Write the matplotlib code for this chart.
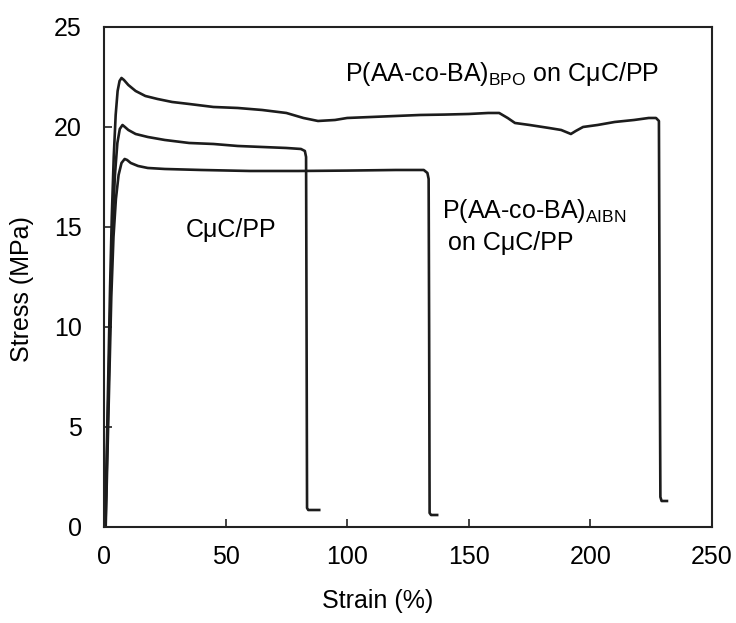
import matplotlib
matplotlib.use("Agg")
import matplotlib.pyplot as plt

plt.rcParams['font.family'] = ['Liberation Sans', 'DejaVu Sans']
plt.rcParams['mathtext.fontset'] = 'custom'
plt.rcParams['mathtext.rm'] = 'Liberation Sans'

# stress-strain curves
bpo_strain = [0.5, 1.5, 2.5, 3.2, 4.0, 4.8, 5.6, 6.4, 7.2, 8.2, 10, 13, 17, 22, 28, 35, 45, 55,
              65, 75, 82, 88, 95, 100, 110, 120, 130, 140, 150, 158, 162.5, 166, 169, 175, 183,
              188, 190, 192, 194, 197, 203, 210, 218, 224, 227, 228.2, 228.5, 228.8, 229.3, 231.5]
bpo_stress = [0, 6, 12, 15.5, 18.5, 20.6, 21.8, 22.3, 22.45, 22.35, 22.1, 21.8, 21.55, 21.4, 21.25,
              21.15, 21.0, 20.95, 20.85, 20.7, 20.45, 20.3, 20.35, 20.45, 20.5, 20.55, 20.6, 20.62,
              20.65, 20.7, 20.7, 20.45, 20.2, 20.1, 19.95, 19.85, 19.75, 19.65, 19.8, 20.0, 20.1,
              20.25, 20.35, 20.45, 20.45, 20.3, 10, 1.5, 1.3, 1.3]

cuc_strain = [0.6, 1.7, 2.8, 3.6, 4.5, 5.5, 6.5, 7.6, 8.6, 10, 13, 18, 25, 35, 45, 55, 65, 75, 81,
              82.6, 83.1, 83.3, 83.5, 84, 88.5]
cuc_stress = [0, 6, 12, 15.2, 17.6, 19.2, 19.9, 20.1, 20.0, 19.85, 19.65, 19.5, 19.35, 19.2, 19.15,
              19.05, 19.0, 18.95, 18.9, 18.8, 18.5, 10, 0.95, 0.85, 0.85]

aibn_strain = [0.7, 1.9, 3.0, 3.9, 4.9, 6.0, 7.2, 8.5, 9.5, 11, 14, 18, 25, 40, 60, 80, 100, 120,
               131.5, 133.0, 133.5, 133.7, 133.9, 134.5, 137]
aibn_stress = [0, 6, 11.5, 14.5, 16.4, 17.6, 18.2, 18.4, 18.35, 18.2, 18.05, 17.95, 17.9, 17.85,
               17.8, 17.8, 17.82, 17.85, 17.85, 17.7, 17.4, 10, 0.7, 0.6, 0.6]

xticks = [0, 50, 100, 150, 200, 250]
yticks = [0, 5, 10, 15, 20, 25]

fs = 18
fig = plt.figure(figsize=(7.36, 6.23), dpi=100)
ax = fig.add_axes([0.1413, 0.1541, 0.826, 0.8026])

for xs, ys in [(bpo_strain, bpo_stress), (cuc_strain, cuc_stress), (aibn_strain, aibn_stress)]:
    ax.plot(xs, ys, color='#1c1c1c', lw=1.9, solid_joinstyle='round')

ax.set_xlim(0, 250)
ax.set_ylim(0, 25)
ax.set_xticks(xticks)
ax.set_yticks(yticks)
ax.tick_params(direction='in', length=6, width=1.2, labelsize=fs, color='#222222')
ax.tick_params(axis='y', pad=16)
ax.tick_params(axis='x', pad=13)
for s in ax.spines.values():
    s.set_linewidth(1.5)
    s.set_color('#222222')

ax.set_xlabel('Strain (%)', fontsize=fs)
ax.set_ylabel('Stress (MPa)', fontsize=fs)
ax.xaxis.set_label_coords(0.45, -0.125)
ax.yaxis.set_label_coords(-0.115, 0.475)

ax.text(99, 22.3, r'P(AA-co-BA)$_\mathrm{BPO}$ on CμC/PP', fontsize=fs, va='baseline')
ax.text(33.8, 14.5, 'CμC/PP', fontsize=fs, va='baseline')
ax.text(138.8, 15.45, r'P(AA-co-BA)$_\mathrm{AIBN}$', fontsize=fs, va='baseline')
ax.text(141.5, 13.85, 'on CμC/PP', fontsize=fs, va='baseline')

fig.savefig('out.png', dpi=100)
